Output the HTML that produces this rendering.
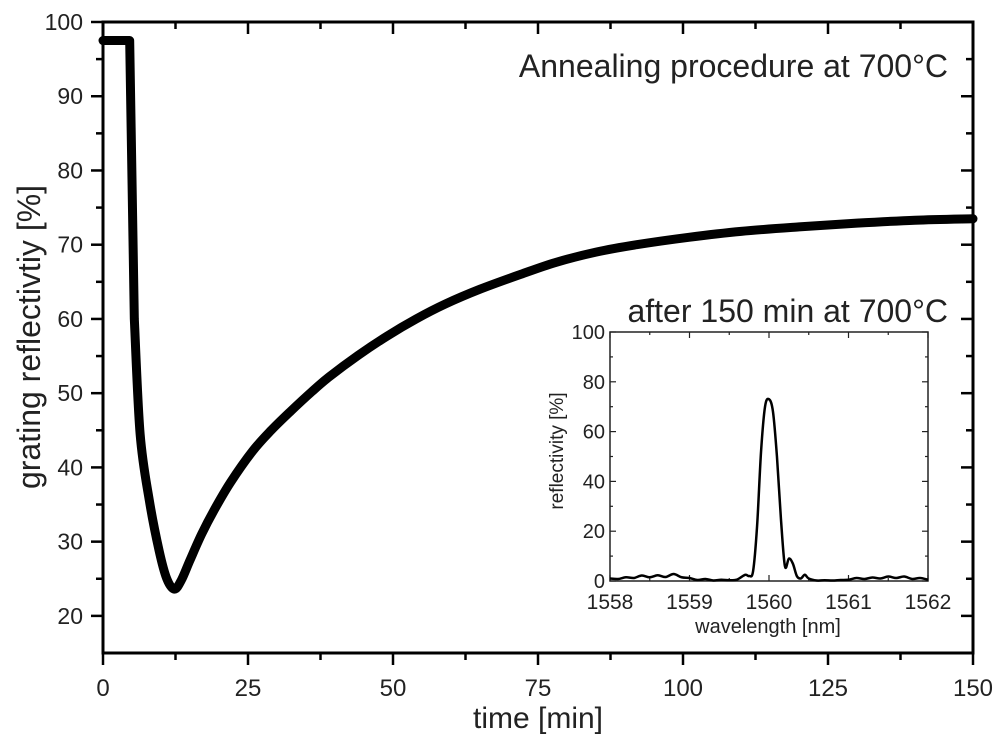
<!DOCTYPE html>
<html><head><meta charset="utf-8"><style>
html,body{margin:0;padding:0;background:#fff}
svg{display:block;font-family:"Liberation Sans",Arial,sans-serif}
</style></head><body>
<svg id="chart" width="1000" height="743" viewBox="0 0 1000 743">
<g id="main"></g>
<g id="inset"></g>
</svg>
<script>
// main chart data
const timeMin = [0,2,4.6,5.4,6.4,8,9.7,11,12.3,13.5,15,17,19.2,22,25.8,29,32.4,36,39,44,49,54,59,65,72,78,85,92,101,110,120,130,140,150];
const reflectivity = [97.5,97.5,97.5,60,44.5,35.5,28.7,25,23.6,24.8,27.5,31,34.3,38.0,42.2,45,47.6,50.2,52.2,55.1,57.7,60,62,64,66,67.6,69,70,71,71.8,72.4,72.9,73.3,73.5];
const xTicks = [0,25,50,75,100,125,150];
const yTicks = [20,30,40,50,60,70,80,90,100];
// inset data
const wavelength = [1558,1558.1,1558.2,1558.3,1558.4,1558.5,1558.6,1558.7,1558.8,1558.9,1559,1559.1,1559.2,1559.3,1559.4,1559.5,1559.6,1559.7,1559.75,1559.8,1559.85,1559.9,1559.95,1560,1560.05,1560.1,1560.15,1560.2,1560.25,1560.3,1560.35,1560.4,1560.45,1560.5,1560.6,1560.7,1560.8,1560.9,1561,1561.1,1561.2,1561.3,1561.4,1561.5,1561.6,1561.7,1561.8,1561.9,1562];
const spectrum = [1,0.8,1.5,1.2,2.2,1.5,2.3,1.6,2.8,1.5,1.2,0.4,0.8,0.2,0.5,0.3,0.6,2.5,2,4,22,52,70,73,68,50,25,6,9,7,2,1,2.5,1,0.2,0.3,0.2,0.4,0.5,1.2,0.8,1.4,1,1.8,1.2,1.8,0.8,1.2,0.5];
const insetXTicks = [1558,1559,1560,1561,1562];
const insetYTicks = [0,20,40,60,80,100];

const NS="http://www.w3.org/2000/svg";
function mk(parent,tag,attrs,text){const e=document.createElementNS(NS,tag);for(const k in attrs)e.setAttribute(k,attrs[k]);if(text!==undefined)e.textContent=text;parent.appendChild(e);return e;}
function smooth(pts,lin){let d='M'+pts[0][0]+','+pts[0][1];
 for(let i=0;i<pts.length-1;i++){
  if(i<lin){d+=' L'+pts[i+1][0]+','+pts[i+1][1];continue;}
  const p0=pts[Math.max(lin,i-1)],p1=pts[i],p2=pts[i+1],p3=pts[Math.min(pts.length-1,i+2)];
  const c1x=p1[0]+(p2[0]-p0[0])/6,c1y=p1[1]+(p2[1]-p0[1])/6,c2x=p2[0]-(p3[0]-p1[0])/6,c2y=p2[1]-(p3[1]-p1[1])/6;
  d+=' C'+c1x+','+c1y+' '+c2x+','+c2y+' '+p2[0]+','+p2[1];}
 return d;}

const L=103,R=973,T=22,B=653,X0=0,X1=150,Y0=15,Y1=100;
const sx=v=>L+(v-X0)/(X1-X0)*(R-L);
const sy=v=>B-(v-Y0)/(Y1-Y0)*(B-T);
const m=document.getElementById('main');
let fr=mk(m,'rect',{x:L,y:T,width:R-L,height:B-T,fill:'none',stroke:'#000','stroke-width':3});


for(let v=0;v<=150;v+=12.5){const maj=v%25===0,len=maj?12:7;
 let t=mk(m,'line',{x1:sx(v),x2:sx(v),y1:B,y2:B+len,stroke:'#000','stroke-width':2.5});
 
 
 let t2=mk(m,'line',{x1:sx(v),x2:sx(v),y1:T,y2:T+len,stroke:'#000','stroke-width':2.5});
 
 }
for(let v=20;v<=100;v+=5){const maj=v%10===0,len=maj?12:7;
 let t=mk(m,'line',{x1:L-len,x2:L,y1:sy(v),y2:sy(v),stroke:'#000','stroke-width':2.5});
 
 
 let t2=mk(m,'line',{x1:R-len,x2:R,y1:sy(v),y2:sy(v),stroke:'#000','stroke-width':2.5});
 
 }
xTicks.forEach(v=>{let t=mk(m,'text',{x:sx(v),y:696,'font-size':24,'text-anchor':'middle',fill:'#222'},String(v));
 
 });
yTicks.forEach(v=>{let t=mk(m,'text',{x:83,y:sy(v)+8,'font-size':23,'text-anchor':'end',fill:'#222'},String(v));
 
 });
let xt=mk(m,'text',{x:538,y:728,'font-size':30,'text-anchor':'middle',fill:'#222'},'time [min]');


let yt=mk(m,'text',{x:0,y:0,'font-size':32,'text-anchor':'middle',fill:'#222',transform:'translate(40,337) rotate(-90)'},'grating reflectivtiy [%]');


let ti=mk(m,'text',{x:948,y:77,'font-size':32,'text-anchor':'end',fill:'#222'},'Annealing procedure at 700°C');


let line=mk(m,'path',{d:smooth(timeMin.map((t,i)=>[sx(t),sy(reflectivity[i])]),3),fill:'none',stroke:'#000','stroke-width':9,'stroke-linejoin':'round','stroke-linecap':'round'});



const g=document.getElementById('inset');
const iL=610,iR=928,iT=332,iB=581;
const ix=v=>iL+(v-1558)/4*(iR-iL);
const iy=v=>iB-v/100*(iB-iT);
let bg=mk(g,'rect',{x:iL,y:iT,width:iR-iL,height:iB-iT,fill:'#fff',stroke:'#222','stroke-width':1.5});


for(let v=1558;v<=1562;v+=0.5){const len=(v%1===0)?6:3;
 let t=mk(g,'line',{x1:ix(v),x2:ix(v),y1:iB,y2:iB-len,stroke:'#222','stroke-width':1.2});
 
 
 let t2=mk(g,'line',{x1:ix(v),x2:ix(v),y1:iT,y2:iT+len,stroke:'#222','stroke-width':1.2});
 
 }
for(let v=0;v<=100;v+=10){const len=(v%20===0)?6:3;
 let t=mk(g,'line',{x1:iL,x2:iL+len,y1:iy(v),y2:iy(v),stroke:'#222','stroke-width':1.2});
 
 
 let t2=mk(g,'line',{x1:iR-len,x2:iR,y1:iy(v),y2:iy(v),stroke:'#222','stroke-width':1.2});
 
 }
insetXTicks.forEach(v=>{let t=mk(g,'text',{x:ix(v),y:609,'font-size':21,'text-anchor':'middle',fill:'#222'},String(v));
 
 });
insetYTicks.forEach(v=>{let t=mk(g,'text',{x:605,y:iy(v)+7,'font-size':20,'text-anchor':'end',fill:'#222'},String(v));
 
 });
let ixt=mk(g,'text',{x:768,y:633,'font-size':20,'text-anchor':'middle',fill:'#222'},'wavelength [nm]');


let iyt=mk(g,'text',{x:0,y:0,'font-size':19,'text-anchor':'middle',fill:'#222',transform:'translate(563,451) rotate(-90)'},'reflectivity [%]');


let it=mk(g,'text',{x:948,y:322,'font-size':32,'text-anchor':'end',fill:'#222'},'after 150 min at 700°C');


let sp=mk(g,'path',{d:smooth(wavelength.map((w,i)=>[ix(w),iy(spectrum[i])]),0),fill:'none',stroke:'#000','stroke-width':2.5,'stroke-linejoin':'round'});


</script>
</body></html>
